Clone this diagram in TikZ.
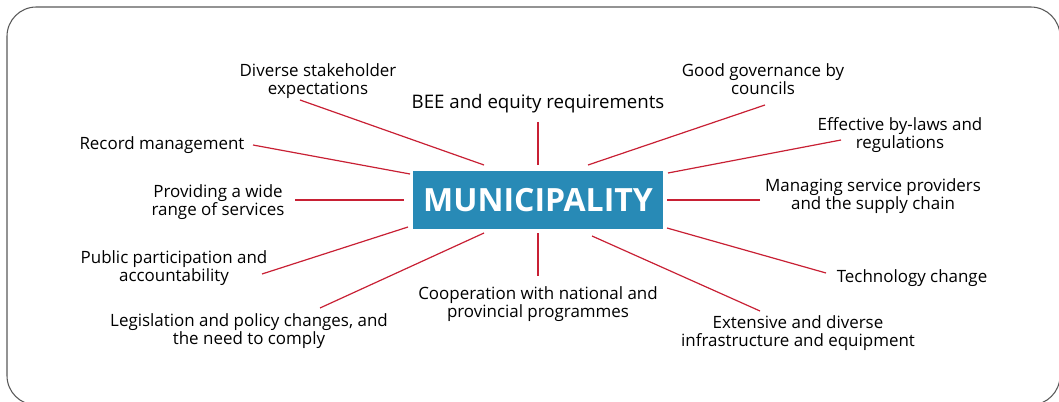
\documentclass[tikz,border=0pt]{standalone}
\usepackage{fontspec}
\setmainfont{Open Sans}
\definecolor{muniblue}{RGB}{40,138,182}
\definecolor{linkred}{RGB}{200,32,52}
\begin{document}
\begin{tikzpicture}[x=0.75pt, y=-0.75pt, font=\fontsize{12.7}{13.6}\selectfont,
    lbl/.style={align=center, inner sep=0pt},
    link/.style={draw=linkred, line width=0.9pt}]
  \useasboundingbox (0,0) rectangle (1059,402);
  \draw[gray!70!black, line width=0.8pt, rounded corners=22pt] (7,7) rectangle (1060,405);
  % centre box
  \node[fill=muniblue, text=white, inner sep=0pt, minimum width=187.5pt, minimum height=43.5pt,
        font=\fontsize{24}{24}\selectfont\bfseries] (muni) at (538,200) {MUNICIPALITY};
  % labels, clockwise from top
  \node[lbl, font=\fontsize{14}{15}\selectfont] (bee) at (538,104) {BEE and equity requirements};
  \node[lbl] (good) at (763,79) {Good governance by\\councils};
  \node[lbl] (effect) at (900,135) {Effective by-laws and\\regulations};
  \node[lbl] (manage) at (873,196) {Managing service providers\\and the supply chain};
  \node[lbl] (tech) at (912,278) {Technology change};
  \node[lbl] (ext) at (798,333) {Extensive and diverse\\infrastructure and equipment};
  \node[lbl] (coop) at (538,304) {Cooperation with national and\\provincial programmes};
  \node[lbl] (legis) at (249,331) {Legislation and policy changes, and\\the need to comply};
  \node[lbl] (public) at (174,268) {Public participation and\\accountability};
  \node[lbl] (prov) at (218,202) {Providing a wide\\range of services};
  \node[lbl] (rec) at (162,145) {Record management};
  \node[lbl] (div) at (318,81) {Diverse stakeholder\\expectations};
  % connector ends
  \coordinate (bee-o) at (538,122);    \coordinate (bee-i) at (538,165);
  \coordinate (good-o) at (765,105);   \coordinate (good-i) at (588,165);
  \coordinate (effect-o) at (841,140); \coordinate (effect-i) at (668,173);
  \coordinate (manage-o) at (760,200); \coordinate (manage-i) at (667,200);
  \coordinate (tech-o) at (826,273);   \coordinate (tech-i) at (667,228);
  \coordinate (ext-o) at (760,311);    \coordinate (ext-i) at (592,236);
  \coordinate (coop-o) at (538,276);   \coordinate (coop-i) at (538,233);
  \coordinate (legis-o) at (320,308);  \coordinate (legis-i) at (484,233);
  \coordinate (public-o) at (262,274); \coordinate (public-i) at (408,227);
  \coordinate (prov-o) at (295,200);   \coordinate (prov-i) at (404,200);
  \coordinate (rec-o) at (253,145);    \coordinate (rec-i) at (410,174);
  \coordinate (div-o) at (300,100);    \coordinate (div-i) at (484,165);
  \foreach \n in {bee,good,effect,manage,tech,ext,coop,legis,public,prov,rec,div}
    \draw[link] (\n-o) -- (\n-i);
\end{tikzpicture}
\end{document}
